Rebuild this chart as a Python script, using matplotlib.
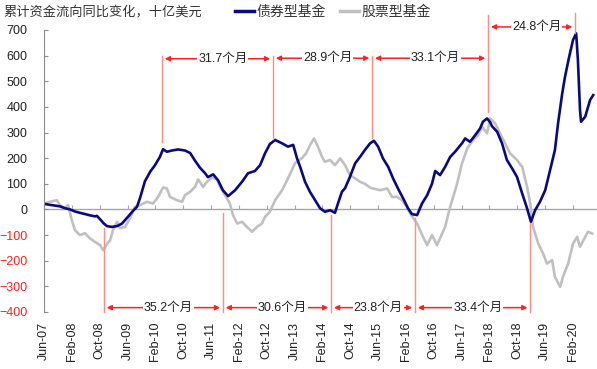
import matplotlib
matplotlib.use('Agg')
import matplotlib.pyplot as plt
from matplotlib.lines import Line2D

plt.rcParams['font.family'] = ['Liberation Sans', 'Noto Sans CJK SC']

# x is months since Jun-2007, values in bn USD
bond_m = [0.0, 1.7, 3.2, 4.6, 6.0, 7.5, 8.9, 10.3, 11.8, 13.2, 14.7, 15.2, 16.1, 17.2, 18.1,
          19.5, 21.0, 22.4, 24.1, 25.6, 26.7, 27.6, 29.0, 30.5, 31.9, 33.3, 34.2, 35.3, 36.8,
          38.5, 40.5, 42.0, 43.4, 44.8, 46.3, 47.1, 48.6, 50.0, 51.4, 52.9, 54.9, 56.9, 58.6,
          60.6, 62.1, 63.5, 64.9, 66.4, 68.4, 70.1, 71.6, 72.7, 73.6, 75.0, 76.4, 77.9, 79.3,
          80.7, 82.2, 83.6, 84.5, 85.6, 86.5, 87.9, 89.4, 90.8, 92.2, 93.7, 94.8, 96.0, 97.4,
          98.9, 100.3, 101.7, 103.2, 104.6, 105.7, 107.2, 108.6, 110.1, 111.5, 112.4, 113.8,
          115.2, 116.7, 118.1, 120.1, 121.0, 122.4, 123.9, 125.3, 126.1, 127.3, 128.2, 128.7,
          130.2, 131.6, 133.0, 134.5, 135.9, 137.4, 138.8, 139.9, 141.1, 142.5, 144.0, 145.4,
          146.8, 147.7, 148.9, 149.7, 150.9, 152.0, 152.9, 153.4, 154.0, 154.3, 155.5, 156.9,
          157.8]
bond_v = [22, 18, 15, 12, 5, 0, -8, -13, -18, -23, -27, -25, -38, -55, -65,
          -68, -65, -55, -29, -5, 10, 45, 110, 147, 173, 205, 235, 225, 230,
          234, 230, 220, 190, 163, 141, 126, 137, 114, 75, 52, 75, 108, 141,
          150, 173, 219, 255, 271, 258, 245, 252, 199, 166, 108, 69, 36, 5,
          -9, -3, -13, 25, 69, 83, 127, 180, 205, 232, 258, 268, 245, 199,
          166, 121, 82, 43, 4, -18, -22, 23, 56, 101, 150, 134,
          165, 205, 225, 258, 277, 264, 290, 316, 342, 355, 340, 325,
          303, 258, 193, 160, 127, 62, 4, -48, -3, 30, 75, 153,
          232, 336, 453, 518, 596, 661, 687, 583, 389, 342, 362, 427,
          446]

equity_m = [0.0, 1.7, 3.7, 4.6, 6.0, 6.9, 8.0, 8.9, 10.3, 11.8, 13.2, 14.7, 16.1, 17.0, 18.1,
            19.0, 19.8, 21.0, 21.8, 23.3, 24.7, 26.1, 27.6, 29.6, 31.3, 32.8, 34.2, 35.3, 36.2,
            38.2, 39.7, 40.5, 42.0, 43.4, 44.3, 45.7, 46.8, 48.3, 49.7, 50.6, 52.0, 53.4, 54.3,
            55.5, 56.9, 58.3, 59.8, 61.2, 62.6, 63.5, 64.9, 66.4, 68.4, 70.1, 72.1, 74.1, 75.3,
            76.4, 77.6, 78.7, 79.9, 80.7, 82.2, 83.6, 85.1, 86.5, 87.9, 89.4, 90.8, 92.2, 93.7,
            95.1, 96.6, 98.6, 100.0, 101.4, 102.9, 104.3, 105.2, 107.2, 108.9, 110.1, 111.5,
            112.9, 114.4, 115.2, 116.7, 118.7, 120.1, 121.6, 123.3, 124.7, 125.9, 127.3, 128.2,
            129.6, 131.0, 132.5, 133.9, 135.9, 137.4, 138.8, 139.7, 140.5, 142.0, 143.4, 144.5,
            146.0, 146.8, 148.3, 149.1, 150.6, 152.0, 153.2, 154.0, 155.5, 156.3, 157.5]
equity_v = [23, 30, 36, 17, 5, 17, -42, -81, -100, -93, -113, -127, -139, -159, -135,
            -120, -81, -48, -73, -68, -35, 10, 17, 30, 23, 49, 86, 82, 49,
            36, 30, 56, 69, 88, 117, 88, 108, 124, 118, 88, 56, 23, -22,
            -55, -48, -68, -87, -68, -55, -29, -9, 36, 75, 121, 180, 200, 219,
            250, 277, 245, 205, 186, 193, 173, 199, 173, 134, 121, 108, 100, 85,
            80, 75, 82, 49, 49, 36, 10, -16, -55, -107, -139, -100,
            -139, -94, -70, 10, 101, 180, 238, 271, 290, 323, 297, 355,
            336, 297, 258, 219, 193, 166, 88, 23, -68, -133, -172, -211,
            -198, -263, -302, -263, -211, -133, -107, -146, -107, -87, -94]

tick_m = [0, 8, 16, 24, 32, 40, 48, 56, 64, 72, 80, 88, 96, 104, 112, 120, 128, 136, 144, 152]
tick_labels = ['Jun-07', 'Feb-08', 'Oct-08', 'Jun-09', 'Feb-10', 'Oct-10', 'Jun-11', 'Feb-12',
               'Oct-12', 'Jun-13', 'Feb-14', 'Oct-14', 'Jun-15', 'Feb-16', 'Oct-16', 'Jun-17',
               'Feb-18', 'Oct-18', 'Jun-19', 'Feb-20']

# peak / trough markers of the bond fund line
peak_m = [33.9, 65.8, 94.3, 127.6, 152.6]
peak_top = [600, 597, 597, 760, 765]
peak_bottom = [262, 273, 278, 380, 690]
peak_arrow_y = [588, 590, 590, 712]
peak_gaps = ['31.7个月', '28.9个月', '33.1个月', '24.8个月']

trough_m = [17.2, 51.4, 82.5, 106.6, 139.7]
trough_top = [-74, -15, -23, -34, -53]
trough_arrow_y = [-383, -383, -383, -383]
trough_gaps = ['35.2个月', '30.6个月', '23.8个月', '33.4个月']

fig = plt.figure(figsize=(5.97, 3.69), dpi=100)
ax = fig.add_axes([44 / 597, 1 - 312 / 369, 552 / 597, 282 / 369])

ax.plot(equity_m, equity_v, color='#c0c0c0', lw=1.9, solid_joinstyle='round')
ax.plot(bond_m, bond_v, color='#0a0a80', lw=1.9, solid_joinstyle='round')

ax.set_xlim(0, 158.6)
ax.set_ylim(-400, 700)

# red helper lines and arrows
red = '#ff2020'
for m, t, b in zip(peak_m, peak_top, peak_bottom):
    ax.plot([m, m], [b, t], color='#ff8a8a', lw=1.0, clip_on=False)
for m, t in zip(trough_m, trough_top):
    ax.plot([m, m], [-400, t], color='#ff8a8a', lw=1.0, clip_on=False)


def gap_arrow(m1, m2, y, label):
    ax.annotate('', xy=(m2 - 0.8, y), xytext=(m1 + 0.8, y), annotation_clip=False,
                arrowprops=dict(arrowstyle='<|-|>', color=red, lw=1.1, mutation_scale=7,
                                shrinkA=0, shrinkB=0))
    ax.text((m1 + m2) / 2 + 1.5, y, label, ha='center', va='center', fontsize=9,
            color='#222222', clip_on=False,
            bbox=dict(facecolor='white', edgecolor='none', pad=0.6))


for i, label in enumerate(peak_gaps):
    gap_arrow(peak_m[i], peak_m[i + 1], peak_arrow_y[i], label)
for i, label in enumerate(trough_gaps):
    gap_arrow(trough_m[i], trough_m[i + 1], trough_arrow_y[i], label)

# axes styling
for s in ['top', 'right', 'bottom']:
    ax.spines[s].set_visible(False)
ax.spines['left'].set_color('#8c8c8c')
ax.set_yticks(range(-400, 701, 100))
ax.tick_params(axis='y', direction='in', length=3, color='#8c8c8c', pad=12,
               labelsize=9, labelcolor='#222222')
for lab, v in zip(ax.get_yticklabels(), range(-400, 701, 100)):
    if v < 0:
        lab.set_color('#ff2020')

ax.set_xticks(tick_m)
ax.set_xticklabels(tick_labels, rotation=90, fontsize=9, color='#222222')
ax.tick_params(axis='x', length=0, pad=7)

# zero axis with tick marks
zero = ax.secondary_xaxis(0, transform=ax.transData)
zero.spines['bottom'].set_color('#a6a6a6')
zero.spines['bottom'].set_linewidth(1.0)
zero.set_xticks(tick_m)
zero.set_xticklabels([])
zero.tick_params(direction='in', length=3, color='#a6a6a6')

fig.text(0.006, 1 - 12 / 369, '累计资金流向同比变化，十亿美元', fontsize=9.5,
         family=['Noto Sans CJK SC'], color='#333333', va='center')

handles = [Line2D([], [], color='#0a0a80', lw=2.5), Line2D([], [], color='#c0c0c0', lw=2.5)]
fig.legend(handles, ['债券型基金', '股票型基金'], loc='center left',
           bbox_to_anchor=(235 / 597, 1 - 12 / 369), ncol=2, frameon=False,
           handlelength=1.4, handletextpad=0.15, columnspacing=1.0, borderpad=0,
           borderaxespad=0, prop={'family': 'Noto Sans CJK SC', 'size': 10},
           labelcolor='#333333')

fig.savefig('out.png', dpi=100)
